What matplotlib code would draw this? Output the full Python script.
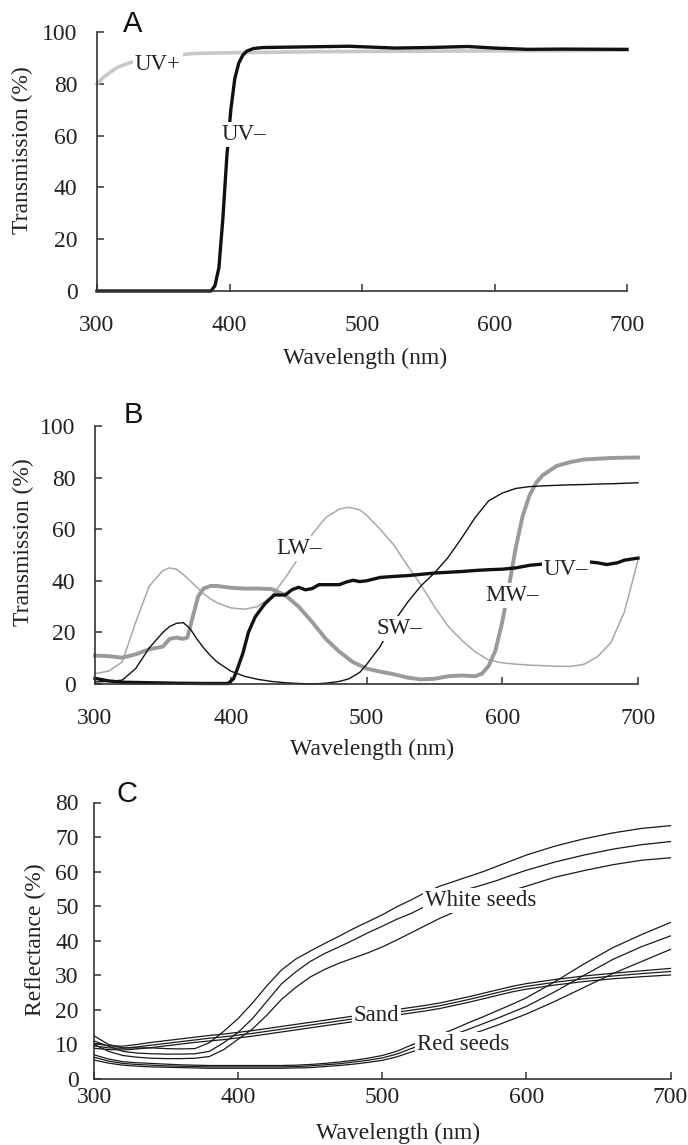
import matplotlib.pyplot as plt

plt.rcParams['font.family'] = ['Liberation Serif', 'DejaVu Serif']

# ---- panel A: filter transmission ----
a_uvplus_nm = [300, 305, 310, 316, 325, 335, 345, 355, 365, 373, 390, 420, 450, 500, 550, 600, 650, 700]
a_uvplus = [80, 82.5, 84.5, 86.5, 88.2, 89.4, 90.2, 90.8, 91.3, 91.7, 91.9, 92.1, 92.3, 92.5, 92.6, 92.7, 92.8, 93.0]

a_uvminus_nm = [300, 350, 386, 389, 392, 395, 398, 401, 404, 407, 410, 413, 418, 425, 450, 490, 525, 550, 580, 600, 625, 650, 700]
a_uvminus = [0, 0, 0, 2, 9, 28, 52, 70, 82, 88, 91, 92.6, 93.6, 94, 94.2, 94.5, 93.8, 94, 94.4, 93.8, 93.3, 93.4, 93.3]

# ---- panel B: filter transmission ----
b_nm = [300, 310, 320, 330, 340, 350, 355, 360, 365, 370, 375, 380, 385, 390, 400, 410, 420, 430, 440, 450,
        460, 470, 480, 487, 495, 500, 510, 520, 530, 540, 550, 560, 570, 580, 590, 600, 610, 620, 630, 640,
        650, 660, 670, 680, 690, 700]
b_lw = [4, 5, 8.5, 24, 38, 44, 45, 44.5, 42.5, 40, 37.5, 35, 33, 31.5, 29.5, 29, 30, 34, 41, 49,
        58, 64.5, 67.8, 68.5, 67.5, 65.5, 60, 54, 46, 38.5, 30, 22.5, 17, 12.5, 9.3, 8.2, 7.7, 7.3, 7.1, 6.9,
        6.8, 7.6, 10.5, 16, 28, 48]
b_sw = [0.8, 1, 1.5, 6, 14, 20, 22.3, 23.5, 23.8, 21.5, 17.5, 14, 11, 8.5, 5, 3, 1.8, 1, 0.5, 0.2,
        0, 0.3, 1, 2, 4.5, 7.5, 14.5, 24, 31.5, 38, 43, 49, 56.5, 64.5, 71, 74, 75.8, 76.5, 76.8, 77,
        77.2, 77.3, 77.5, 77.6, 77.8, 78]

b_mw_nm = [300, 310, 320, 330, 340, 350, 355, 360, 365, 368, 372, 376, 380, 385, 390, 400, 410, 420, 430, 440,
           450, 460, 470, 480, 490, 500, 510, 520, 530, 540, 550, 560, 570, 580, 585, 590, 595, 600, 605, 610,
           615, 620, 625, 630, 640, 650, 660, 680, 700]
b_mw = [11, 10.8, 10.2, 11.5, 13.5, 14.5, 17.5, 18, 17.5, 18, 26, 34, 37, 38, 38, 37.3, 37, 37, 36.8, 34.5,
        30, 24, 17.5, 12.5, 8.5, 6, 4.8, 3.8, 2.5, 1.8, 2, 3, 3.3, 3, 4, 7, 13, 24, 38, 53,
        65, 73, 78, 81, 84.5, 86, 87, 87.6, 87.8]

b_uv_nm = [300, 310, 320, 340, 360, 380, 398, 402, 405, 409, 413, 418, 425, 432, 440, 445, 450, 455, 460, 465,
           475, 480, 485, 490, 495, 500, 510, 520, 530, 540, 550, 560, 570, 580, 590, 600, 610, 620, 630, 640,
           650, 660, 670, 677, 685, 690, 700]
b_uv = [2.2, 1.2, 0.7, 0.5, 0.3, 0.2, 0.2, 2, 6, 12, 20, 26, 31, 34.5, 34.5, 36.5, 37.5, 36.5, 37, 38.5,
        38.5, 38.5, 39.5, 40.2, 39.7, 40, 41.3, 41.7, 42, 42.5, 43, 43.3, 43.6, 44, 44.3, 44.5, 45, 46, 46.5, 47,
        47.5, 47.5, 47, 46.3, 47, 48, 48.8]

# ---- panel C: reflectance ----
c_nm = [300, 310, 320, 330, 340, 350, 360, 370, 380, 390, 400, 410, 420, 430, 440, 450, 460, 470, 480, 490,
        500, 510, 520, 530, 540, 550, 560, 570, 580, 590, 600, 620, 640, 660, 680, 700]
white_1 = [12.5, 10, 9, 9, 9, 8.8, 8.7, 8.8, 10.5, 13.8, 17.5, 22, 27, 31.5, 34.7, 37, 39.2, 41.3, 43.5, 45.5,
           47.5, 49.8, 51.8, 54, 55.8, 57.2, 58.6, 60, 61.6, 63.2, 64.8, 67.4, 69.5, 71.2, 72.5, 73.3]
white_2 = [11, 9.5, 8, 7.5, 7.3, 7.2, 7.2, 7.3, 8, 10.5, 13.5, 17.5, 22.5, 27.5, 31, 34, 36.3, 38.2, 40.2, 42.3,
           44.2, 46.2, 47.9, 50, 52, 53.5, 55, 56.2, 57.5, 59, 60.4, 62.8, 64.8, 66.5, 67.8, 68.7]
white_3 = [10, 8, 6.8, 6.3, 6, 5.9, 5.9, 6, 6.5, 8.5, 11.5, 14.5, 18.5, 23, 26.5, 29.5, 31.7, 33.5, 35, 36.5,
           38.2, 40.2, 42.3, 44.4, 46.5, 48.3, 50, 51.6, 53.2, 54.5, 55.8, 58.4, 60.3, 62, 63.3, 64]
sand_1 = [10.3, 9.6, 9.5, 10, 10.6, 11.1, 11.6, 12.1, 12.6, 13, 13.5, 14, 14.6, 15.2, 15.8, 16.4, 17, 17.6, 18.2, 18.8,
          19.5, 20.1, 20.7, 21.3, 22, 22.9, 23.8, 24.8, 25.8, 26.8, 27.6, 28.8, 29.8, 30.6, 31.3, 32]
sand_2 = [9.6, 9, 8.9, 9.3, 9.8, 10.3, 10.8, 11.3, 11.8, 12.2, 12.7, 13.2, 13.8, 14.4, 15, 15.6, 16.2, 16.8, 17.4, 18,
          18.7, 19.3, 19.9, 20.5, 21.2, 22.1, 23, 24, 25, 26, 26.8, 28, 29, 29.8, 30.5, 31.1]
sand_3 = [8.9, 8.5, 8.4, 8.7, 9.1, 9.6, 10.1, 10.6, 11, 11.4, 11.9, 12.4, 13, 13.6, 14.2, 14.8, 15.4, 16, 16.6, 17.2,
          17.9, 18.5, 19.1, 19.7, 20.4, 21.3, 22.2, 23.2, 24.2, 25.2, 26, 27.2, 28.2, 29, 29.6, 30.1]
red_1 = [7, 5.8, 5, 4.7, 4.5, 4.3, 4.1, 4, 3.9, 3.9, 3.9, 3.9, 3.9, 3.9, 4, 4.2, 4.5, 4.9, 5.4, 6,
         6.8, 8, 9.8, 11.3, 12.8, 14.5, 16.3, 18, 19.8, 21.6, 23.5, 28.2, 33.3, 38, 41.8, 45.3]
red_2 = [6.3, 5.2, 4.5, 4.2, 4, 3.8, 3.7, 3.6, 3.5, 3.5, 3.5, 3.5, 3.5, 3.5, 3.6, 3.8, 4.1, 4.4, 4.9, 5.4,
         6.1, 7.2, 8.8, 10.2, 11.5, 12.9, 14.4, 16, 17.6, 19.3, 21, 25.3, 30, 34.6, 38.3, 41.4]
red_3 = [5.5, 4.6, 4, 3.7, 3.5, 3.4, 3.3, 3.2, 3.1, 3.1, 3.1, 3.1, 3.1, 3.1, 3.2, 3.3, 3.6, 3.9, 4.3, 4.8,
         5.4, 6.4, 7.8, 9, 10.2, 11.4, 12.7, 14.1, 15.6, 17.2, 18.8, 22.5, 26.5, 30.5, 34, 37.5]

W, H = 688, 1145
fig = plt.figure(figsize=(W / 100, H / 100), dpi=100)


def px_axes(left, right, top, bottom):
    return fig.add_axes([left / W, 1 - bottom / H, (right - left) / W, (bottom - top) / H])


def style(ax, ymax, ystep, xpad, ypad):
    ax.set_xlim(300, 700)
    ax.set_ylim(0, ymax)
    ax.set_xticks([300, 400, 500, 600, 700])
    ax.set_yticks(range(0, ymax + 1, ystep))
    for s in ['top', 'right']:
        ax.spines[s].set_visible(False)
    for s in ['left', 'bottom']:
        ax.spines[s].set_color('#333333')
        ax.spines[s].set_linewidth(1.2)
    ax.tick_params(direction='in', length=5, width=1.1, color='#333333', labelsize=17, labelcolor='#222222')
    ax.tick_params(axis='x', pad=xpad)
    ax.tick_params(axis='y', pad=ypad)


def label(ax, x, y, s):
    ax.text(x, y, s, fontsize=16.5, color='#222222', ha='center', va='center', zorder=10,
            bbox=dict(facecolor='white', edgecolor='none', pad=1.5))


def px_label(ax, which, s, xpx, ypx, axbox):
    l, r, t, b = axbox
    fx = (xpx - l) / (r - l)
    fy = (b - ypx) / (b - t)
    if which == 'x':
        ax.set_xlabel(s, fontsize=17, color='#222222')
        ax.xaxis.label.set_va('center')
        ax.xaxis.set_label_coords(fx, fy)
    else:
        ax.set_ylabel(s, fontsize=17, color='#222222')
        ax.yaxis.label.set_va('center')
        ax.yaxis.set_label_coords(fx, fy)


# panel A
boxA = (97, 627, 32, 291)
axA = px_axes(*boxA)
style(axA, 100, 20, 17, 14)
axA.plot(a_uvplus_nm, a_uvplus, color='#c8c8c8', lw=2.6, clip_on=False)
axA.plot(a_uvminus_nm, a_uvminus, color='#111111', lw=2.4, clip_on=False)
label(axA, 346, 87.4, 'UV+')
label(axA, 411, 60.3, 'UV\u2013')
px_label(axA, 'x', 'Wavelength (nm)', 365, 358, boxA)
px_label(axA, 'y', 'Transmission (%)', 22, 150, boxA)

# panel B
boxB = (95, 638, 426, 684)
axB = px_axes(*boxB)
style(axB, 100, 20, 17, 14)
axB.plot(b_nm, b_lw, color='#a8a8a8', lw=1.1, clip_on=False)
axB.plot(b_mw_nm, b_mw, color='#9a9a9a', lw=2.8, clip_on=False)
axB.plot(b_nm, b_sw, color='#111111', lw=1.0, clip_on=False)
axB.plot(b_uv_nm, b_uv, color='#111111', lw=2.4, clip_on=False)
label(axB, 450, 52.5, 'LW\u2013')
label(axB, 524, 21.4, 'SW\u2013')
label(axB, 607, 34.2, 'MW\u2013')
label(axB, 647, 44.5, 'UV\u2013')
px_label(axB, 'x', 'Wavelength (nm)', 372, 749, boxB)
px_label(axB, 'y', 'Transmission (%)', 23, 542, boxB)

# panel C
boxC = (94, 670.5, 802.5, 1079)
axC = px_axes(*boxC)
style(axC, 80, 10, 6, 11)
for series in [white_1, white_2, white_3, sand_1, sand_2, sand_3, red_1, red_2, red_3]:
    axC.plot(c_nm, series, color='#1a1a1a', lw=0.9, clip_on=False)
label(axC, 568, 51.6, 'White seeds')
label(axC, 496, 18.3, 'Sand')
label(axC, 556, 10, 'Red seeds')
px_label(axC, 'x', 'Wavelength (nm)', 398, 1133, boxC)
px_label(axC, 'y', 'Reflectance (%)', 35, 940, boxC)

# panel letters
for letter, xpx, ypx in [('A', 123, 32), ('B', 124, 423), ('C', 117, 802)]:
    fig.text(xpx / W, 1 - ypx / H, letter, fontsize=21, family='Liberation Sans',
             color='#111111', ha='left', va='baseline')

fig.savefig('out.png', dpi=100, facecolor='white')
